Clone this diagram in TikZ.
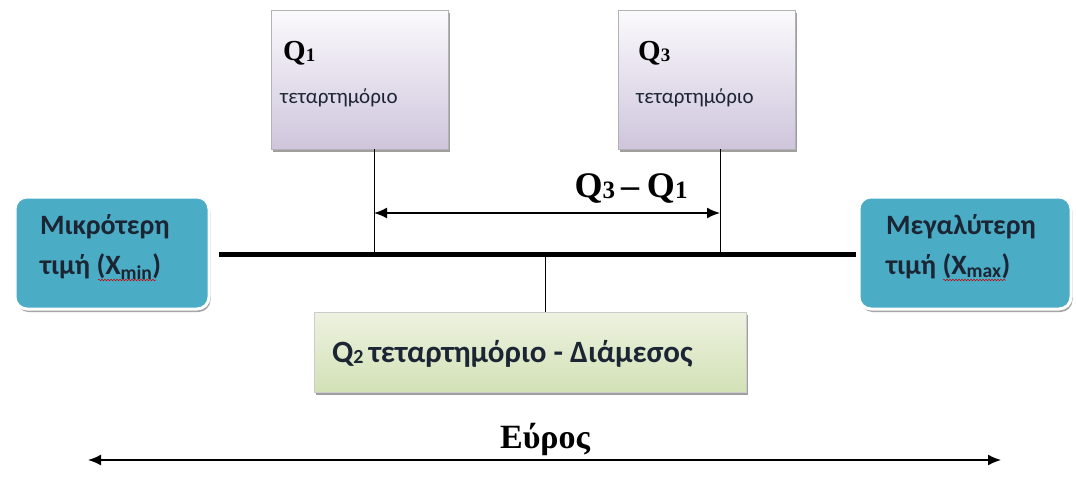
\documentclass[tikz,border=0pt]{standalone}
\usepackage{fontspec}
\setmainfont{Carlito}
\newfontfamily\tnr{Liberation Serif}
\usetikzlibrary{shadows,arrows.meta,decorations.pathmorphing}
\definecolor{endfill}{HTML}{4BACC6}
\definecolor{txtdark}{HTML}{1B2533}
\definecolor{lavtop}{HTML}{FBFAFD}
\definecolor{lavbot}{HTML}{CFC5DC}
\definecolor{grtop}{HTML}{EDF2E0}
\definecolor{grbot}{HTML}{D3E1B6}
\begin{document}
\begin{tikzpicture}[x=1pt,y=-1pt,
  qbox/.style={draw=gray!60, line width=0.6pt, top color=lavtop, bottom color=lavbot,
     drop shadow={shadow xshift=1.5pt, shadow yshift=-3pt, fill=gray!75, opacity=1},
     inner sep=0pt},
  mbox/.style={draw=gray!40, line width=0.6pt, top color=grtop, bottom color=grbot,
     drop shadow={shadow xshift=1.5pt, shadow yshift=-3pt, fill=gray!75, opacity=1},
     inner sep=0pt},
  endbox/.style={fill=endfill, draw=white, line width=3pt, rounded corners=12pt,
     drop shadow={shadow xshift=1.5pt, shadow yshift=-3pt, fill=gray!70, opacity=1},
     inner sep=0pt},
  boxtext/.style={anchor=base west, inner sep=0pt, text=txtdark, font=\bfseries\fontsize{28}{31}\selectfont, align=left},
  qlab/.style={anchor=base west, inner sep=0pt, text=black, font=\tnr\bfseries\fontsize{29}{32}\selectfont},
  qsub/.style={anchor=base west, inner sep=0pt, text=txtdark, font=\fontsize{21}{24}\selectfont},
  bigl/.style={anchor=base, inner sep=0pt, text=black, font=\tnr\bfseries\fontsize{34}{38}\selectfont},
  thin line/.style={line width=0.8pt},
  dimarrow/.style={line width=1.6pt, {Latex[length=13pt,width=11pt]}-{Latex[length=13pt,width=11pt]}},
  squig/.style={draw=red!80!black, line width=0.5pt, decorate, decoration={snake, amplitude=0.8pt, segment length=3pt}}
]
\useasboundingbox (0,0) rectangle (1076,493);
\fill[white] (0,0) rectangle (1076,493);

% boxes
\node[qbox, minimum width=177pt, minimum height=139pt] (q1) at (359.5,79.5) {};
\node[qbox, minimum width=177pt, minimum height=139pt] (q3) at (707,79.5) {};
\node[endbox, minimum width=194pt, minimum height=112pt] (lb) at (112,253) {};
\node[endbox, minimum width=212pt, minimum height=112pt] (rb) at (965,253) {};
\node[mbox, minimum width=432pt, minimum height=80pt] (q2) at (530,352) {};

% texts
\node[qlab] (q1a) at (283,60) {Q\raisebox{-1pt}{\fontsize{19}{19}\selectfont 1}};
\node[qsub] (q1b) at (280,103) {τεταρτημόριο};
\node[qlab] (q3a) at (638,60) {Q\raisebox{-1pt}{\fontsize{19}{19}\selectfont 3}};
\node[qsub] (q3b) at (636,103) {τεταρτημόριο};

\node[boxtext] (lt1) at (40,234) {Μικρότερη};
\node[boxtext] (lt2) at (40,274) {τιμή (X\textsubscript{min})};
\node[boxtext] (rt1) at (886,234) {Μεγαλύτερη};
\node[boxtext] (rt2) at (886,274) {τιμή (X\textsubscript{max})};
\draw[squig] (98,280) -- (156,280);
\draw[squig] (943,280) -- (1006,280);

\node[boxtext, font=\bfseries\fontsize{31}{35}\selectfont] (q2t) at (332,362)
  {Q\raisebox{-1pt}{\fontsize{20}{20}\selectfont 2}\,τεταρτημόριο - Διάμεσος};

% axis
\coordinate (L) at (219,254);
\coordinate (R) at (856,254);
\draw[line width=5pt] (L) -- (R);
\coordinate (m1) at (374,254);
\coordinate (m3) at (720,254);
\coordinate (m2) at (545,254);
\draw[thin line] (q1.south -| m1) -- (m1);
\draw[thin line] (q3.south -| m3) -- (m3);
\draw[thin line] (m2) -- (m2 |- q2.north);

% interquartile arrow
\coordinate (a1) at (374,213);
\coordinate (a3) at (720,213);
\draw[dimarrow] (a1) -- (a3);
\node[bigl, font=\tnr\bfseries\fontsize{36}{40}\selectfont] (iqr) at (631,197) {Q\raisebox{-1pt}{\fontsize{25}{25}\selectfont 3}\hspace{6pt}–\hspace{8pt}Q\raisebox{-1pt}{\fontsize{25}{25}\selectfont 1}};

% range arrow
\coordinate (r1) at (88,460);
\coordinate (r2) at (1001,460);
\draw[dimarrow] (r1) -- (r2);
\node[bigl] (rng) at (545,448) {Εύρος};
\end{tikzpicture}
\end{document}
